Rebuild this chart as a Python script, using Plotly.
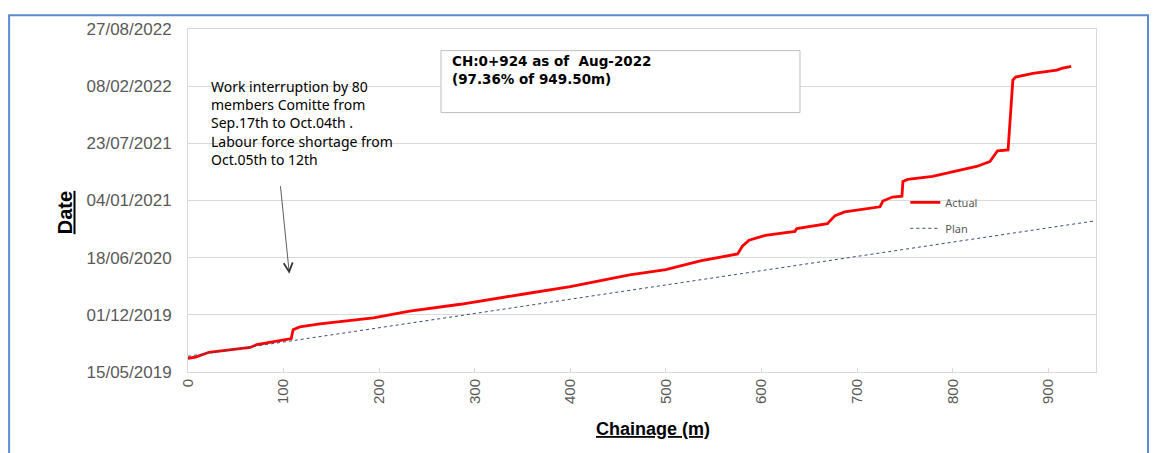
import plotly.graph_objects as go

# actual progress: chainage (m) vs date reached
actual_chainage = [0, 8, 22, 65, 72, 108, 110, 117, 138, 194, 232, 285, 350, 400, 462,
                   500, 536, 575, 580, 587, 604, 635, 637, 669, 677, 687, 724, 727, 737,
                   747, 748, 753, 779, 805, 825, 839, 847, 858, 861, 863, 866, 884, 909,
                   914, 924]
actual_dates = ["2019-07-02", "2019-07-06", "2019-07-23", "2019-08-09", "2019-08-19",
                "2019-09-09", "2019-10-10", "2019-10-20", "2019-10-30", "2019-11-20",
                "2019-12-14", "2020-01-07", "2020-02-11", "2020-03-09", "2020-04-19",
                "2020-05-07", "2020-06-07", "2020-07-01", "2020-07-28", "2020-08-18",
                "2020-09-04", "2020-09-18", "2020-09-28", "2020-10-15", "2020-11-12",
                "2020-11-25", "2020-12-13", "2021-01-02", "2021-01-16", "2021-01-19",
                "2021-03-12", "2021-03-19", "2021-03-29", "2021-04-19", "2021-05-03",
                "2021-05-20", "2021-06-27", "2021-06-30", "2021-11-11", "2022-03-01",
                "2022-03-12", "2022-03-25", "2022-04-05", "2022-04-11", "2022-04-18"]

# planned progress (straight line)
plan_chainage = [0, 949.5]
plan_dates = ["2019-07-09", "2020-10-25"]

note_text = ("Work interruption by 80<br>members Comitte from<br>Sep.17th to Oct.04th .<br>"
             "Labour force shortage from<br>Oct.05th to 12th")
box_text = "<b>CH:0+924 as of  Aug-2022<br>(97.36% of 949.50m)</b>"

GRID = "#d9d9d9"

fig = go.Figure()
fig.add_trace(go.Scatter(x=actual_chainage, y=actual_dates, mode="lines", name="Actual",
                         legendgroup="a",
                         line=dict(color="#ff0000", width=2.8)))
fig.add_trace(go.Scatter(x=plan_chainage, y=plan_dates, mode="lines", name="Plan",
                         legendgroup="b",
                         line=dict(color="#3b4a7a", width=1, dash="dot")))

fig.update_xaxes(range=[0, 950], dtick=100, tick0=0, showgrid=False, zeroline=False,
                 showline=True, linecolor=GRID, linewidth=1, mirror=True,
                 ticks="inside", ticklen=4, tickcolor=GRID,
                 tickangle=-90,
                 tickfont=dict(family="Liberation Sans, Arial", size=15, color="#595959"))
fig.update_yaxes(type="date", range=["2019-05-15", "2022-08-27"],
                 tick0="2019-05-15", dtick=200 * 86400000, tickformat="%d/%m/%Y",
                 showgrid=True, gridcolor=GRID, gridwidth=1, zeroline=False,
                 showline=True, linecolor=GRID, linewidth=1, mirror=True,
                 ticks="", ticklabelstandoff=12,
                 tickfont=dict(family="Liberation Sans, Arial", size=17, color="#595959"))

fig.add_annotation(x=106, y="2020-04-23", ax=-9, ay=-89, xref="x", yref="y",
                   text="", showarrow=True, arrowhead=5, arrowsize=2.2, arrowwidth=0.8,
                   arrowcolor="#333333")
fig.add_annotation(x=0.023, y=0.867, xref="paper", yref="paper", text=note_text,
                   showarrow=False, xanchor="left", yanchor="top", align="left",
                   font=dict(family="Noto Sans", size=14, color="#000000"))

fig.add_shape(type="rect", xref="paper", yref="paper", x0=0.2786, x1=0.674, y0=0.7564, y1=0.937,
              line=dict(color="#bfbfbf", width=1), fillcolor="white", layer="above")
fig.add_annotation(x=0.2885, y=0.935, xref="paper", yref="paper", text=box_text,
                   showarrow=False, xanchor="left", yanchor="top", align="left",
                   font=dict(family="DejaVu Sans", size=13.5, color="#000000"))

fig.add_annotation(x=-0.1494, y=0.464, xref="paper", yref="paper",
                   text="<u><b>Date</b></u>", showarrow=False, textangle=-90,
                   font=dict(family="Liberation Sans, Arial", size=20, color="#000000"))
fig.add_annotation(x=0.512, y=-0.2, xref="paper", yref="paper",
                   text="<u><b>Chainage (m)</b></u>", showarrow=False,
                   font=dict(family="Liberation Sans, Arial", size=18, color="#000000"))

# outer frame of the picture
fig.add_shape(type="rect", xref="paper", yref="paper", x0=-0.197, x1=1.0573, y0=-0.3, y1=1.040,
              line=dict(color="#5b8bd0", width=2), fillcolor="rgba(0,0,0,0)")

# the page body adds an 8px offset, so margins are trimmed by 8 on the left/top
fig.update_layout(
    width=1160, height=453,
    margin=dict(l=180, r=72, t=15, b=89),
    plot_bgcolor="white", paper_bgcolor="white",
    showlegend=True,
    legend=dict(x=0.79, y=0.537, xanchor="left", yanchor="top", bgcolor="rgba(0,0,0,0)",
                tracegroupgap=7, itemwidth=30,
                font=dict(family="Noto Sans", size=11, color="#595959")),
)

fig.write_html("out.html")
